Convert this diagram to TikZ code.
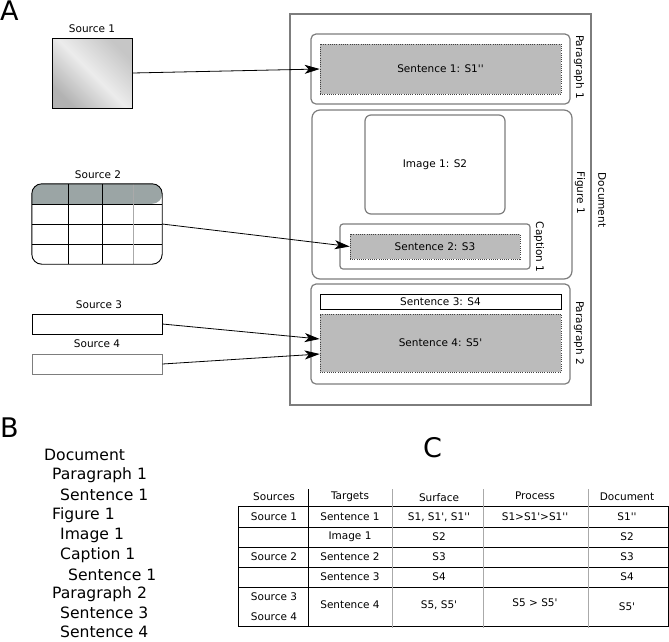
\documentclass[tikz,border=0pt]{standalone}
\usepackage{fontspec}
\newfontfamily\diafont{DejaVu Sans}
\usetikzlibrary{arrows.meta}
\definecolor{fillgray}{RGB}{187,187,187}
\definecolor{framegray}{RGB}{125,125,125}
\definecolor{headgray}{RGB}{155,165,165}
\definecolor{rulegray}{RGB}{170,170,170}

\begin{document}
\begin{tikzpicture}[
  x=1pt, y=-1pt,
  every node/.style={font=\diafont\fontsize{10.5}{12}\selectfont, inner sep=0pt},
  frame/.style={rectangle, draw=framegray, line width=1.2pt, rounded corners=5pt},
  sentence/.style={rectangle, draw=black!75, fill=fillgray, dash pattern=on 0.8pt off 1.4pt, line width=0.6pt},
  plain/.style={rectangle, draw, line width=0.9pt},
  tag/.style={rotate=-90},
  outline/.style={anchor=west, font=\diafont\fontsize{15.6}{18}\selectfont},
  big/.style={anchor=base west, font=\diafont\fontsize{27}{30}\selectfont},
  line/.style={-{Stealth[length=15pt, width=9pt, inset=4pt]}, line width=0.8pt}
]
\useasboundingbox (0,0) rectangle (669,641);

% --- A: sources and document
\node[big] (lblA) at (0,20) {A};

\node (src1lbl) at (92,29) {Source 1};
\node[plain, minimum width=80, minimum height=70,
  left color=gray!60, right color=gray!45, middle color=gray!15, shading angle=135] (src1) at (92,73) {};

\node (src2lbl) at (98,175) {Source 2};
\node[minimum width=130, minimum height=80] (src2) at (97,224) {};
\fill[headgray, rounded corners=10pt] ([yshift=-20pt]src2.north west) -- (src2.north west)
  -- (src2.north east) -- ([yshift=-20pt]src2.north east) [sharp corners] -- cycle;
\draw[line width=0.9pt] (32,204) -- (162,204) (32,224) -- (162,224) (32,244) -- (162,244);
\draw[line width=0.9pt] (68,184) -- (68,264) (102,184) -- (102,264);
\draw[rulegray, line width=0.9pt] (133,184) -- (133,264);
\draw[line width=0.9pt, rounded corners=10pt] (src2.north west) rectangle (src2.south east);

\node (src3lbl) at (99,305) {Source 3};
\node[plain, minimum width=130, minimum height=20] (src3) at (97,324) {};
\node (src4lbl) at (97,344) {Source 4};
\node[plain, draw=framegray, minimum width=130, minimum height=20] (src4) at (97,364) {};

\node[rectangle, draw=framegray, line width=2pt, minimum width=301, minimum height=391] (doc) at (440.5,209.5) {};
\node[tag] (doclbl) at (602,200) {Document};

\node[frame, minimum width=259, minimum height=70] (para1) at (440.5,69) {};
\node[sentence, minimum width=241, minimum height=50] (sent1) at (440.5,69) {Sentence 1: S1''};
\node[tag] (para1lbl) at (579,67) {Paragraph 1};

\node[frame, rounded corners=8pt, minimum width=260, minimum height=169] (fig1) at (442,194.5) {};
\node[frame, rounded corners=6pt, minimum width=140, minimum height=99] (img1) at (435,164.5) {Image 1: S2};
\node[frame, rounded corners=3pt, minimum width=190, minimum height=45] (cap1) at (435,246.5) {};
\node[sentence, minimum width=170, minimum height=25] (sent2) at (435,246.5) {Sentence 2: S3};
\node[tag] (fig1lbl) at (580,193) {Figure 1};
\node[tag] (cap1lbl) at (539,247) {Caption 1};

\node[frame, minimum width=259, minimum height=100] (para2) at (440.5,334) {};
\node[plain, minimum width=241, minimum height=15] (sent3) at (440.5,301.5) {Sentence 3: S4};
\node[sentence, minimum width=241, minimum height=58] (sent4) at (440.5,343) {Sentence 4: S5'};
\node[tag] (para2lbl) at (579,333) {Paragraph 2};

\draw[line] (src1.east) -- (sent1.west);
\draw[line] (src2.east) -- (sent2.west);
\draw[line] (src3.east) -- ([yshift=4pt]sent4.west);
\draw[line] (src4.east) -- ([yshift=-11pt]sent4.west);

% --- B: outline
\node[big] (lblB) at (0,437) {B};
\node[outline] (bdoc) at (44,455) {Document};
\node[outline] (bpara1) at (52,475) {Paragraph 1};
\node[outline] (bsent1) at (60,495) {Sentence 1};
\node[outline] (bfig1) at (52,515) {Figure 1};
\node[outline] (bimg1) at (60,535) {Image 1};
\node[outline] (bcap1) at (60,555) {Caption 1};
\node[outline] (bsent2) at (68,575) {Sentence 1};
\node[outline] (bpara2) at (52,594) {Paragraph 2};
\node[outline] (bsent3) at (60,613) {Sentence 3};
\node[outline] (bsent4) at (60,632) {Sentence 4};

% --- C: table
\node[big] (lblC) at (423,457) {C};
\draw[line width=0.9pt] (238,506) rectangle (668,626);
\draw[line width=0.9pt] (238,527) -- (668,527) (238,547) -- (668,547)
  (238,567) -- (668,567) (238,587) -- (668,587);
\draw[line width=0.9pt] (308,489) -- (308,626);
\draw[rulegray, line width=1pt] (392,489) -- (392,628) (483,489) -- (483,628) (588,489) -- (588,628);

\node (hsrc) at (274,497) {Sources};
\node (htgt) at (350,497) {Targets};
\node (hsurf) at (439,498) {Surface};
\node (hproc) at (535,496) {Process};
\node (hdoc) at (627,497) {Document};

\node (r1src) at (274,517) {Source 1};
\node (r1tgt) at (350,517) {Sentence 1};
\node (r1surf) at (439,517) {S1, S1', S1''};
\node (r1proc) at (535,517) {S1>S1'>S1''};
\node (r1doc) at (627,517) {S1''};

\node (r2tgt) at (350,537) {Image 1};
\node (r2surf) at (439,537) {S2};
\node (r2doc) at (627,537) {S2};

\node (r3src) at (274,557) {Source 2};
\node (r3tgt) at (350,557) {Sentence 2};
\node (r3surf) at (439,557) {S3};
\node (r3doc) at (627,557) {S3};

\node (r4tgt) at (350,577) {Sentence 3};
\node (r4surf) at (439,577) {S4};
\node (r4doc) at (627,577) {S4};

\node (r5src) at (274,597) {Source 3};
\node (r5srcb) at (274,617) {Source 4};
\node (r5tgt) at (350,605) {Sentence 4};
\node (r5surf) at (439,605) {S5, S5'};
\node (r5proc) at (535,603) {S5 > S5'};
\node (r5doc) at (627,607) {S5'};

\end{tikzpicture}
\end{document}
